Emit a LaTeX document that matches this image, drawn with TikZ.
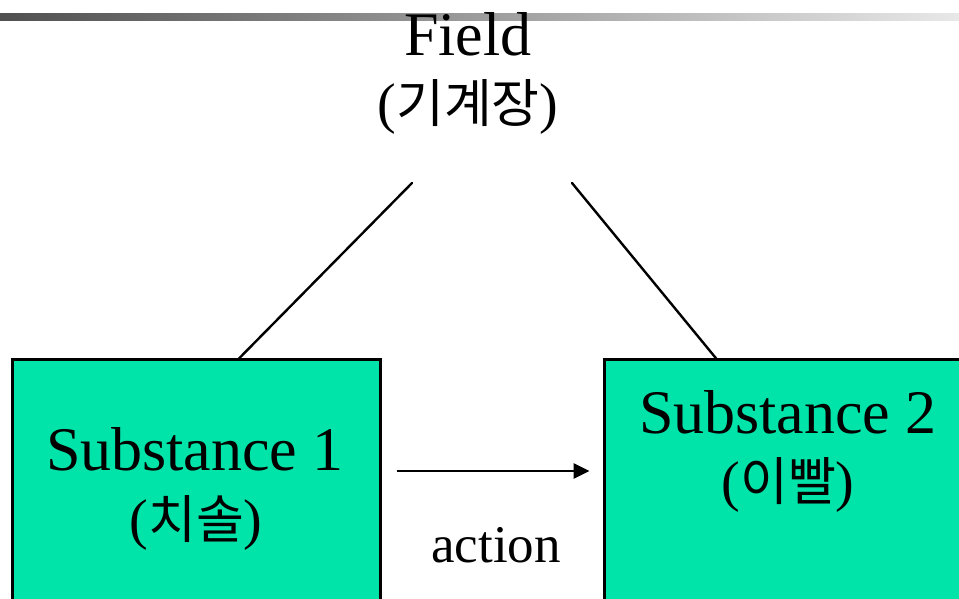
\documentclass[tikz,border=0pt]{standalone}
\usepackage{fontspec}
\setmainfont{Liberation Serif}
\newfontfamily\kor{Noto Sans CJK KR}
\usetikzlibrary{arrows.meta}
\definecolor{boxgreen}{RGB}{0,228,170}
\definecolor{bardark}{RGB}{80,80,80}
\definecolor{barlight}{RGB}{232,232,232}
\tikzset{
  subst/.style={draw=black, line width=2.8pt, fill=boxgreen, rectangle,
    minimum width=368pt, minimum height=340pt, inner sep=0pt, outer sep=0pt,
    anchor=north west},
  big/.style={font=\fontsize{62}{62}\selectfont, anchor=base, inner sep=0pt},
  kline/.style={font=\fontsize{56}{56}\selectfont, anchor=base, inner sep=0pt},
  link/.style={line width=2.4pt, line cap=round},
  arr/.style={line width=2.8pt, -{Triangle[length=16pt,width=15pt]}},
}
\newcommand{\kt}[1]{{\kor\fontsize{52}{52}\selectfont #1}}
\begin{document}
\begin{tikzpicture}[x=1pt, y=-1pt]
  \useasboundingbox (0,0) rectangle (959,598);
  \clip (0,0) rectangle (959,598);
  \fill[white] (0,0) rectangle (959,598);
  % header rule
  \shade[left color=bardark, right color=barlight] (0,13) rectangle (959,20.5);
  % field label
  \node[big] (field) at (468,55) {Field};
  \node[kline] (fieldk) at (468,122) {(\kt{기계장})};
  \coordinate (fL) at (412,183);
  \coordinate (fR) at (572,183);
  % substance boxes
  \node[subst] (s1) at (12.5,359.5) {};
  \node[subst] (s2) at (604.5,359.5) {};
  \node[big] (s1t) at (195,470) {Substance 1};
  \node[kline] (s1k) at (196,538) {(\kt{치솔})};
  \node[big] (s2t) at (788,433) {Substance 2};
  \node[kline] (s2k) at (788,500) {(\kt{이빨})};
  % links to the field
  \draw[link] (fL) -- ([xshift=41.5pt]s1.north);
  \draw[link] (fR) -- ([xshift=-71.5pt]s2.north);
  % action arrow
  \coordinate (actY) at (0,471);
  \draw[arr, shorten <=16pt, shorten >=15pt] (s1.east |- actY) -- (s2.west |- actY);
  \node[font=\fontsize{53}{53}\selectfont, anchor=base, inner sep=0pt] (act) at (496,562) {action};
\end{tikzpicture}
\end{document}
